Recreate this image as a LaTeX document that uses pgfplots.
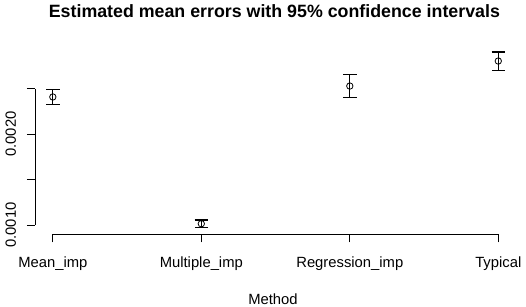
\documentclass[border=0pt]{standalone}
\usepackage{pgfplots}
\pgfplotsset{compat=1.18}
\usepackage{fontspec}
\setmainfont{Liberation Sans}
\begin{document}
\begin{tikzpicture}
\useasboundingbox (0,0) rectangle (526pt,306pt);
\begin{axis}[
  scale only axis, width=481.1pt, height=189.3pt,
  at={(35pt,71.7pt)}, anchor=south west,
  xmin=-0.12, xmax=3.12, ymin=0.000898, ymax=0.002978,
  axis line style={draw=none},
  xtick={0,1,2,3},
  xticklabels={Mean\_imp,Multiple\_imp,Regression\_imp,Typical},
  ytick={0.0010,0.0015,0.0020,0.0025},
  yticklabels={0.0010,,0.0020,},
  scaled y ticks=false,
  xtick pos=bottom, ytick pos=left,
  tick align=outside, major tick length=8pt,
  tick style={black, line width=0.8pt},
  ticklabel style={font=\fontsize{14.8}{16}\selectfont},
  xticklabel style={anchor=base, yshift=-25pt},
  yticklabel style={rotate=90, anchor=base, yshift=11pt},
  clip=false,
]
\draw[black, line width=0.8pt] (axis cs:0,0.000898) -- (axis cs:3,0.000898);
\draw[black, line width=0.8pt] (axis cs:-0.12,0.0010) -- (axis cs:-0.12,0.0025);
\addplot[black, only marks, mark=o, mark size=3.2pt, mark options={line width=0.8pt},
  error bars/.cd, y dir=both, y explicit,
  error bar style={line width=1.1pt},
  error mark options={rotate=90, mark size=6.7pt, line width=1.1pt}]
  coordinates {
    (0,0.002407) += (0,0.000080) -= (0,0.000081)
    (1,0.001014) += (0,0.000041) -= (0,0.000039)
    (2,0.002527) += (0,0.000125) -= (0,0.000124)
    (3,0.002802) += (0,0.000099) -= (0,0.000102)
  };
\end{axis}
\node[anchor=base, font=\bfseries\fontsize{17.8}{20}\selectfont] at (274.4pt,288.7pt) {Estimated mean errors with 95\% confidence intervals};
\node[anchor=base, font=\fontsize{14.8}{16}\selectfont] at (273pt,2pt) {Method};
\end{tikzpicture}
\end{document}
